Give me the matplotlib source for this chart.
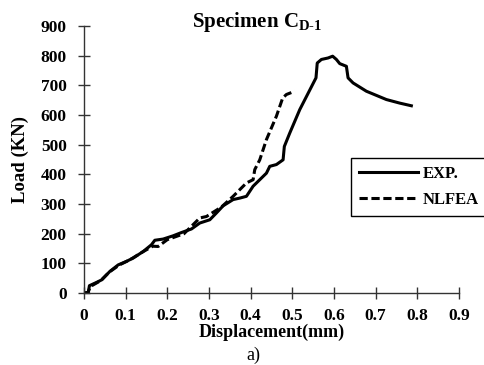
import numpy as np
import matplotlib.pyplot as plt

plt.rcParams['font.family'] = ['Liberation Serif', 'DejaVu Serif']
plt.rcParams['font.weight'] = 'bold'
plt.rcParams['mathtext.fontset'] = 'custom'
plt.rcParams['mathtext.bf'] = 'Liberation Serif:bold'
plt.rcParams['mathtext.rm'] = 'Liberation Serif:bold'

# experimental curve
exp_x = [0.0, 0.01, 0.013, 0.03, 0.043, 0.062, 0.082, 0.102, 0.118, 0.142, 0.162, 0.17,
         0.19, 0.214, 0.234, 0.258, 0.278, 0.302, 0.318, 0.334, 0.358, 0.374, 0.39,
         0.406, 0.422, 0.438, 0.446, 0.462, 0.478, 0.481, 0.494, 0.518, 0.557, 0.56,
         0.57, 0.586, 0.597, 0.606, 0.614, 0.63, 0.634, 0.646, 0.678, 0.726, 0.758, 0.786]
exp_y = [0, 2, 25, 36, 45, 73, 95, 107, 118, 140, 163, 178,
         182, 193, 204, 216, 236, 247, 270, 294, 315, 320, 326,
         360, 382, 404, 427, 433, 449, 494, 539, 618, 725, 775,
         787, 792, 798, 787, 773, 764, 725, 708, 680, 652, 640, 631]

# numerical model
fea_x = [0.0, 0.01, 0.015, 0.04, 0.06, 0.085, 0.11, 0.14, 0.165, 0.178, 0.2, 0.24,
         0.278, 0.294, 0.33, 0.358, 0.39, 0.406, 0.41, 0.422, 0.438, 0.462, 0.477,
         0.486, 0.506]
fea_y = [0, 3, 22, 42, 70, 95, 112, 138, 158, 157, 180, 200,
         253, 258, 290, 326, 371, 382, 416, 449, 517, 596, 657,
         669, 680]

fig = plt.figure(figsize=(4.84, 3.65), dpi=100)
ax = fig.add_axes([0.1736, 0.197, 0.7744, 0.732])

ax.plot(exp_x, exp_y, color='black', lw=2.2, label='EXP.')
ax.plot(fea_x, fea_y, color='black', lw=2.2, ls=(0, (2.7, 1.2)), label='NLFEA')

ax.set_xlim(0, 0.9)
ax.set_ylim(0, 900)
ax.set_xticks(np.arange(0, 0.91, 0.1))
ax.set_xticklabels(['0', '0.1', '0.2', '0.3', '0.4', '0.5', '0.6', '0.7', '0.8', '0.9'])
ax.set_yticks(np.arange(0, 901, 100))
for s in ['top', 'right']:
    ax.spines[s].set_visible(False)
for s in ['left', 'bottom']:
    ax.spines[s].set_linewidth(1.0)
    ax.spines[s].set_color('#333333')
ax.tick_params(direction='inout', length=9, width=1.0, color='#333333', labelsize=12.5)
ax.tick_params(axis='x', pad=6)
ax.tick_params(axis='y', pad=8)
for lab in ax.get_xticklabels() + ax.get_yticklabels():
    lab.set_fontweight('bold')

fig.text(257 / 484, 1 - 27 / 365, 'Specimen C$_{\\mathbf{D\\text{-}1}}$',
         fontsize=15, fontweight='bold', ha='center', va='baseline')
ax.set_xlabel('Displacement(mm)', fontsize=13, fontweight='bold', labelpad=0)
ax.set_ylabel('Load (KN)', fontsize=13.5, fontweight='bold', labelpad=8)
fig.text(0.523, 1 - 364 / 365, 'a)', fontsize=13, fontweight='normal', ha='center', va='bottom')

leg = fig.legend(loc='upper left', bbox_to_anchor=(351 / 484, 1 - 158 / 365),
                 fancybox=False, edgecolor='black', framealpha=1,
                 prop={'family': 'Liberation Serif', 'weight': 'bold', 'size': 12},
                 handlelength=3.5, handletextpad=0.3, labelspacing=0.55,
                 borderpad=0.5, borderaxespad=0)
leg.get_frame().set_linewidth(1.0)

fig.savefig('out.png', dpi=100)
